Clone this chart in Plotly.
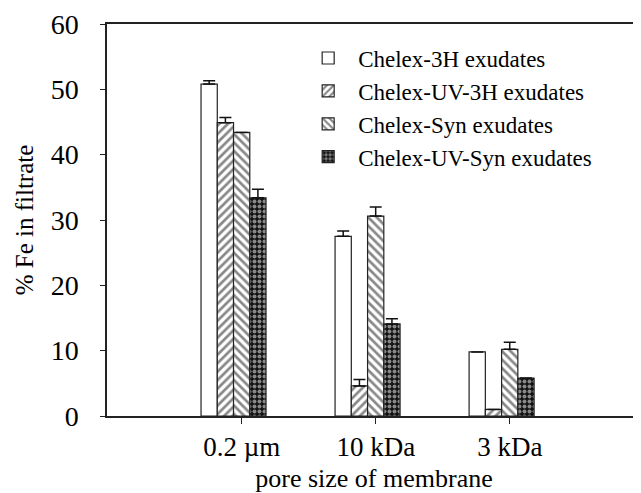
import plotly.graph_objects as go

categories = ["0.2 \u00b5m", "10 kDa", "3 kDa"]
series_names = ["Chelex-3H exudates", "Chelex-UV-3H exudates",
                "Chelex-Syn exudates", "Chelex-UV-Syn exudates"]
vals_3h = [50.8, 27.5, 9.8]
vals_uv3h = [44.9, 4.6, 1.0]
vals_syn = [43.4, 30.6, 10.2]
vals_uvsyn = [33.4, 14.1, 5.8]
err_3h = [0.5, 0.8, 0.0]
err_uv3h = [0.8, 1.0, 0.0]
err_syn = [0.0, 1.4, 1.1]
err_uvsyn = [1.3, 0.8, 0.0]

FONT = "Liberation Serif"
xpos = list(range(len(categories)))
tick_shift = 0.061

patterns = [
    dict(shape=""),
    dict(shape="/", size=6, solidity=0.45, fgcolor="#111", bgcolor="white"),
    dict(shape="\\", size=6, solidity=0.45, fgcolor="#111", bgcolor="white"),
    dict(shape=".", size=5, solidity=0.5, fgcolor="white", bgcolor="#111"),
]
all_vals = [vals_3h, vals_uv3h, vals_syn, vals_uvsyn]
all_errs = [err_3h, err_uv3h, err_syn, err_uvsyn]

fig = go.Figure()
for name, v, e, p in zip(series_names, all_vals, all_errs, patterns):
    fig.add_trace(go.Bar(
        x=xpos, y=v, name=name,
        marker=dict(color="white", line=dict(color="#222", width=1.2), pattern=p),
        error_y=dict(type="data", array=e, arrayminus=[0] * len(e), symmetric=False,
                     color="#111", thickness=1.5, width=6),
    ))

# page body has an 8px margin, so the figure is sized to fill the rest of the window
fig.update_layout(
    width=633, height=485,
    margin=dict(l=99, r=0, t=16, b=77),
    paper_bgcolor="white", plot_bgcolor="white",
    barmode="group", bargap=0.515, bargroupgap=0,
    font=dict(family=FONT, color="black", size=25),
    showlegend=True,
    legend=dict(x=0.358, y=0.968, xanchor="left", yanchor="top",
                font=dict(family=FONT, size=23, color="black"),
                bgcolor="rgba(0,0,0,0)", itemwidth=50, tracegroupgap=0),
    xaxis=dict(range=[-0.944, 3.04], tickmode="array",
               tickvals=[i + tick_shift for i in xpos], ticktext=categories,
               showline=True, linecolor="#222", linewidth=1.5, mirror=True,
               ticks="outside", ticklen=6, tickcolor="#222",
               showgrid=False, zeroline=False,
               tickfont=dict(family=FONT, size=27),
               title=dict(text="pore size of membrane", font=dict(family=FONT, size=26), standoff=12)),
    yaxis=dict(range=[0, 60], tickvals=[0, 10, 20, 30, 40, 50, 60],
               showline=True, linecolor="#222", linewidth=1.5,
               ticks="outside", ticklen=5, tickcolor="#222",
               showgrid=False, zeroline=False,
               tickfont=dict(family=FONT, size=28), ticklabelstandoff=16,
               title=dict(text="% Fe in filtrate", font=dict(family=FONT, size=25), standoff=10)),
)

fig.write_html("out.html")
